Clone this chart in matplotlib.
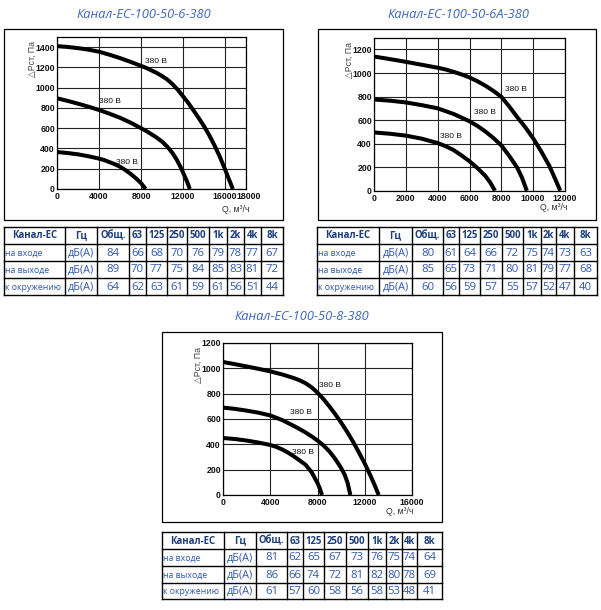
import matplotlib
matplotlib.use("Agg")
import matplotlib.pyplot as plt
import matplotlib.transforms as mtransforms
from matplotlib.patches import Rectangle

W, H = 601, 610

# ---------------- data ----------------
titles = ["Канал-ЕС-100-50-6-380", "Канал-ЕС-100-50-6А-380", "Канал-ЕС-100-50-8-380"]

# panel 1
p1_top_q = [0, 1000, 2000, 3000, 4000, 5000, 6000, 7000, 8000, 8500, 9000, 9500, 10000,
            10500, 11000, 11500, 12000, 12500, 13000, 13500, 14000, 14500, 15000, 15500,
            16000, 16400, 16750]
p1_top_p = [1410, 1402, 1390, 1375, 1355, 1325, 1292, 1255, 1215, 1195, 1170, 1145, 1115,
            1080, 1035, 980, 915, 850, 775, 700, 620, 530, 430, 320, 195, 90, 0]
p1_mid_q = [0, 1000, 2000, 3000, 4000, 5000, 6000, 7000, 8000, 8500, 9000, 9500, 10000,
            10500, 11000, 11400, 11800, 12100, 12400, 12650]
p1_mid_p = [895, 870, 842, 812, 780, 743, 703, 655, 600, 572, 540, 507, 468, 418, 355,
            290, 210, 140, 70, 0]
p1_low_q = [0, 1000, 2000, 3000, 4000, 4500, 5000, 5500, 6000, 6500, 7000, 7500, 8000, 8450]
p1_low_p = [365, 355, 342, 323, 300, 285, 265, 245, 220, 188, 150, 107, 58, 0]

# panel 2
p2_top_q = [0, 1000, 2000, 3000, 4000, 4500, 5000, 5500, 6000, 6500, 7000, 7500, 8000,
            8500, 9000, 9500, 10000, 10500, 11000, 11350, 11700]
p2_top_p = [1140, 1118, 1095, 1070, 1045, 1030, 1010, 988, 962, 930, 892, 848, 798,
            715, 625, 540, 445, 335, 215, 110, 0]
p2_mid_q = [0, 1000, 2000, 3000, 4000, 5000, 6000, 6500, 7000, 7500, 8000, 8500, 9000,
            9300, 9600]
p2_mid_p = [775, 765, 750, 727, 700, 652, 590, 550, 503, 448, 385, 295, 195, 110, 0]
p2_low_q = [0, 1000, 2000, 3000, 4000, 4500, 5000, 5500, 6000, 6500, 7000, 7300, 7600]
p2_low_p = [495, 484, 468, 442, 405, 378, 345, 300, 250, 192, 125, 70, 0]

# panel 3
p3_top_q = [0, 1000, 2000, 3000, 4000, 5000, 6000, 6500, 7000, 7500, 8000, 8500, 9000,
            9500, 10000, 10500, 11000, 11500, 12000, 12500, 12850, 13180]
p3_top_p = [1050, 1033, 1015, 996, 976, 952, 923, 905, 882, 850, 808, 758, 700, 638,
            572, 500, 422, 337, 248, 150, 75, 0]
p3_mid_q = [0, 1000, 2000, 3000, 4000, 5000, 6000, 6500, 7000, 7500, 8000, 8500, 9000,
            9500, 10000, 10300, 10550, 10780]
p3_mid_p = [690, 680, 666, 650, 628, 592, 545, 520, 493, 463, 430, 392, 345, 285, 213,
            160, 95, 0]
p3_low_q = [0, 1000, 2000, 3000, 4000, 4500, 5000, 5500, 6000, 6500, 7000, 7500, 8000,
            8200, 8380]
p3_low_p = [450, 442, 430, 414, 395, 380, 360, 335, 305, 272, 238, 180, 95, 50, 0]

curve_label = "380 В"
p1_label_q = [8367, 3992, 5589]
p1_label_p = [1260, 867, 265]
p2_label_q = [8233, 6286, 4127]
p2_label_p = [860, 662, 464]
p3_label_q = [8158, 5702, 5843]
p3_label_p = [865, 652, 335]

p1_xticks = [0, 4000, 8000, 12000, 16000, 18000]
p1_yticks = [0, 200, 400, 600, 800, 1000, 1200, 1400]
p2_xticks = [0, 2000, 4000, 6000, 8000, 10000, 12000]
p2_yticks = [0, 200, 400, 600, 800, 1000, 1200]
p3_xticks = [0, 4000, 8000, 12000, 16000]
p3_yticks = [0, 200, 400, 600, 800, 1000, 1200]

header = ["Канал-ЕС", "Гц", "Общ.", "63", "125", "250", "500", "1k", "2k", "4k", "8k"]
row_names = ["на входе", "на выходе", "к окружению"]
unit = "дБ(А)"
t1_in = [84, 66, 68, 70, 76, 79, 78, 77, 67]
t1_out = [89, 70, 77, 75, 84, 85, 83, 81, 72]
t1_env = [64, 62, 63, 61, 59, 61, 56, 51, 44]
t2_in = [80, 61, 64, 66, 72, 75, 74, 73, 63]
t2_out = [85, 65, 73, 71, 80, 81, 79, 77, 68]
t2_env = [60, 56, 59, 57, 55, 57, 52, 47, 40]
t3_in = [81, 62, 65, 67, 73, 76, 75, 74, 64]
t3_out = [86, 66, 74, 72, 81, 82, 80, 78, 69]
t3_env = [61, 57, 60, 58, 56, 58, 53, 48, 41]

# ---------------- style ----------------
TITLE_C = "#3d66b8"
HEAD_C = "#1d3e7c"
BODY_C = "#2f58b0"
TICKF = ["Liberation Sans", "DejaVu Sans"]
SANS = ["Open Sans", "DejaVu Sans"]

fig = plt.figure(figsize=(W / 100, H / 100), dpi=100)
fig.patch.set_facecolor("white")

bg = fig.add_axes([0, 0, 1, 1])
bg.set_xlim(0, W)
bg.set_ylim(H, 0)
bg.axis("off")
bg.patch.set_alpha(0)


def add_ax(l, t, r, b):
    return fig.add_axes([l / W, 1 - b / H, (r - l) / W, (b - t) / H])


def draw_panel(ax, curves, lab_q, lab_p, xlim, ylim, xticks, yticks, last_shift=0.0):
    for q, p in curves:
        ax.plot(q, p, color="black", lw=2.9, solid_capstyle="butt",
                solid_joinstyle="round", zorder=3)
    for q, p in zip(lab_q, lab_p):
        ax.text(q, p, curve_label, fontsize=6.0, family=TICKF, va="center",
                ha="left", color="#111", zorder=4)
    ax.set_xlim(*xlim)
    ax.set_ylim(*ylim)
    ax.set_xticks(xticks)
    ax.set_yticks(yticks)
    ax.set_xticklabels([str(v) for v in xticks])
    ax.set_yticklabels([str(v) for v in yticks])
    ax.grid(True, color="#222", lw=0.8)
    ax.set_axisbelow(True)
    ax.tick_params(length=0, labelsize=6.3, colors="#111")
    ax.tick_params(axis="x", pad=2.5)
    ax.tick_params(axis="y", pad=1.5)
    for lbl in ax.get_xticklabels() + ax.get_yticklabels():
        lbl.set_family(TICKF)
        lbl.set_fontweight("bold")
    if last_shift:
        lbl = ax.get_xticklabels()[-1]
        lbl.set_transform(lbl.get_transform() +
                          mtransforms.ScaledTranslation(last_shift / 100, 0, fig.dpi_scale_trans))
    for s in ax.spines.values():
        s.set_color("black")
        s.set_linewidth(0.9)


def draw_table(xs, ys, rows):
    lw = 1.0
    for x in xs:
        bg.plot([x, x], [ys[0], ys[-1]], color="black", lw=lw)
    for y in ys:
        bg.plot([xs[0], xs[-1]], [y, y], color="black", lw=lw)
    yc = (ys[0] + ys[1]) / 2
    for i, h in enumerate(header):
        xc = (xs[i] + xs[i + 1]) / 2
        bg.text(xc, yc + 0.5, h, ha="center", va="center", fontsize=6.9,
                fontweight="bold", color=HEAD_C, family=SANS)
    for r, (name, vals) in enumerate(zip(row_names, rows)):
        yc = (ys[r + 1] + ys[r + 2]) / 2
        bg.text(xs[0] + 1, yc + 0.5, name, ha="left", va="center", fontsize=6.3,
                color=BODY_C, family=SANS)
        bg.text((xs[1] + xs[2]) / 2, yc + 0.5, unit, ha="center", va="center",
                fontsize=7.8, color=BODY_C, family=SANS)
        for j, v in enumerate(vals):
            xc = (xs[j + 2] + xs[j + 3]) / 2
            bg.text(xc, yc + 0.5, str(v), ha="center", va="center", fontsize=8.2,
                    color=BODY_C, family=SANS)


def frame(l, t, r, b):
    bg.add_patch(Rectangle((l, t), r - l, b - t, fill=False, ec="black", lw=0.9))


def axis_labels(ylx, yly, qx, qy):
    bg.text(ylx, yly, "△Рст, Па", rotation=90, ha="center", va="center",
            fontsize=6.3, color="#444", family=["Liberation Sans", "DejaVu Sans"])
    bg.text(qx, qy, "Q, м³/ч", ha="right", va="center", fontsize=6.3,
            color="#333", family=["Liberation Sans", "DejaVu Sans"])


# ---- panel 1 ----
bg.text(144, 15, titles[0], ha="center", va="center", fontsize=9.3,
        style="italic", color=TITLE_C, family=SANS)
frame(4, 29, 283, 220)
ax1 = add_ax(57, 37, 246, 189)
draw_panel(ax1, [(p1_top_q, p1_top_p), (p1_mid_q, p1_mid_p), (p1_low_q, p1_low_p)],
           p1_label_q, p1_label_p, (0, 18000), (0, 1500), p1_xticks, p1_yticks, last_shift=2.5)
axis_labels(32, 59, 249, 209)
draw_table([4, 65, 97, 129, 146, 167, 187, 209, 227, 244, 261, 283],
           [227, 244, 261, 278, 295], [t1_in, t1_out, t1_env])

# ---- panel 2 ----
bg.text(458, 15, titles[1], ha="center", va="center", fontsize=9.3,
        style="italic", color=TITLE_C, family=SANS)
frame(318, 29, 596, 220)
ax2 = add_ax(374, 37.7, 565, 190.7)
draw_panel(ax2, [(p2_top_q, p2_top_p), (p2_mid_q, p2_mid_p), (p2_low_q, p2_low_p)],
           p2_label_q, p2_label_p, (0, 12000), (0, 1300), p2_xticks, p2_yticks)
axis_labels(349, 60, 567, 208)
draw_table([317, 379, 412, 443, 459, 480, 502, 523, 541, 556, 574, 597],
           [227, 244, 261, 278, 295], [t2_in, t2_out, t2_env])

# ---- panel 3 ----
bg.text(302, 316, titles[2], ha="center", va="center", fontsize=9.3,
        style="italic", color=TITLE_C, family=SANS)
frame(162, 332, 442, 522)
ax3 = add_ax(223, 343, 412, 495)
draw_panel(ax3, [(p3_top_q, p3_top_p), (p3_mid_q, p3_mid_p), (p3_low_q, p3_low_p)],
           p3_label_q, p3_label_p, (0, 16000), (0, 1200), p3_xticks, p3_yticks)
axis_labels(198, 365, 413, 512)
draw_table([162, 224, 256, 287, 303, 324, 346, 368, 386, 402, 417, 442],
           [532, 549, 566, 583, 599], [t3_in, t3_out, t3_env])

fig.savefig("out.png", dpi=100, facecolor="white")
